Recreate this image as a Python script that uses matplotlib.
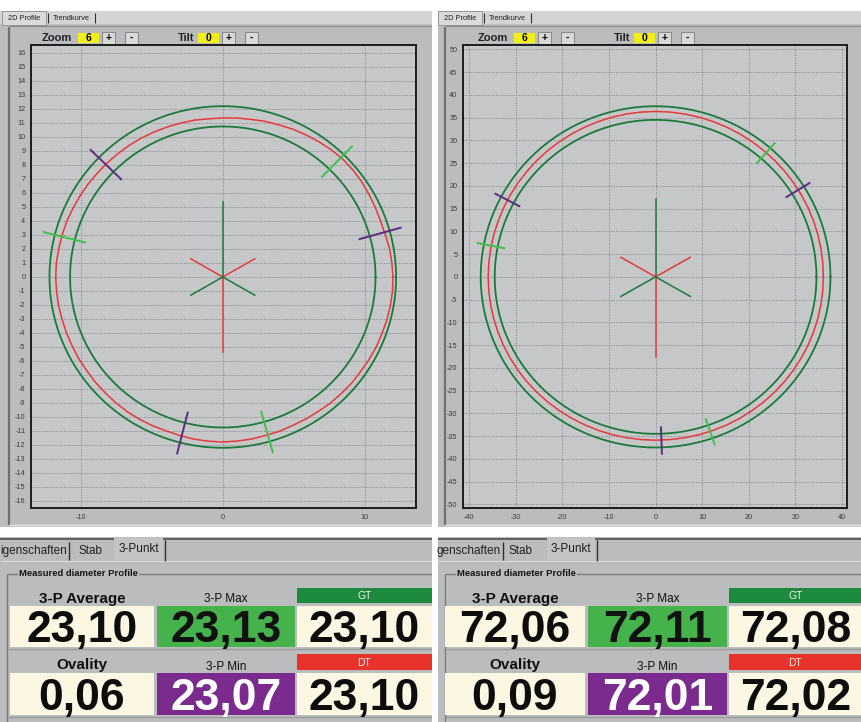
import numpy as np
import matplotlib.pyplot as plt
from matplotlib.patches import Rectangle

plt.rcParams['font.family'] = ['Liberation Sans', 'DejaVu Sans']
plt.rcParams['axes.unicode_minus'] = False

W, H = 862, 722

# ---- small pipe (left window) ----
small_xticks = [-10, 0, 10]
small_yticks = list(range(-16, 17))
small_outer_r = 12.2
small_inner_r = 10.75
profile_deg = list(range(0, 360, 5))
small_profile_r = [11.98, 11.94, 11.91, 11.83, 11.80, 11.83, 11.86, 11.91, 11.93, 11.92,
                   11.87, 11.79, 11.72, 11.65, 11.56, 11.51, 11.43, 11.40, 11.36, 11.34,
                   11.38, 11.38, 11.41, 11.43, 11.46, 11.48, 11.49, 11.52, 11.53, 11.57,
                   11.60, 11.63, 11.68, 11.70, 11.72, 11.76, 11.76, 11.75, 11.74, 11.71,
                   11.71, 11.69, 11.70, 11.68, 11.70, 11.70, 11.72, 11.74, 11.73, 11.72,
                   11.69, 11.72, 11.76, 11.77, 11.79, 11.76, 11.75, 11.71, 11.72, 11.69,
                   11.71, 11.72, 11.77, 11.78, 11.82, 11.82, 11.86, 11.90, 11.91, 11.95,
                   11.97, 11.99]
small_purple_deg = [15.7, 135.7, 255.7]
small_green_deg = [45.7, 165.7, 285.7]
small_mark_r = [10.0, 13.0]
small_arm = [5.35, 5.36, 2.6]   # up, down, diagonal

# ---- large pipe (right window) ----
large_xticks = list(range(-40, 41, 10))
large_yticks = list(range(-50, 51, 5))
large_outer_r = 37.5
large_inner_r = 34.5
large_profile_r = [35.98, 35.99, 36.00, 36.02, 36.04, 36.06, 36.08, 36.10, 36.12, 36.15,
                   36.18, 36.21, 36.24, 36.27, 36.30, 36.32, 36.34, 36.35, 36.36, 36.35,
                   36.34, 36.31, 36.28, 36.24, 36.20, 36.16, 36.12, 36.08, 36.05, 36.01,
                   35.98, 35.95, 35.93, 35.91, 35.90, 35.90, 35.90, 35.90, 35.90, 35.91,
                   35.92, 35.93, 35.94, 35.95, 35.95, 35.94, 35.93, 35.92, 35.91, 35.90,
                   35.90, 35.90, 35.90, 35.90, 35.90, 35.90, 35.91, 35.92, 35.93, 35.94,
                   35.95, 35.95, 35.96, 35.96, 35.97, 35.97, 35.97, 35.98, 35.98, 35.98,
                   35.98, 35.98]
large_purple_deg = [32.0, 152.0, 272.0]
large_green_deg = [49.0, 169.0, 289.0]
large_mark_r = [33.1, 38.9]
large_arm = [17.2, 17.6, 8.6]

# ---- 3-point panel ----
top_titles = ['3-P Average', '3-P Max', 'GT']
bottom_titles = ['Ovality', '3-P Min', 'DT']
small_top_values = ['23,10', '23,13', '23,10']
small_bottom_values = ['0,06', '23,07', '23,10']
large_top_values = ['72,06', '72,11', '72,08']
large_bottom_values = ['0,09', '72,01', '72,02']
zoom_value = 6
tilt_value = 0

WIN = '#bbbcbd'
PLOT_BG = '#c5c7c9'
CREAM = '#fcf7e3'
DARK_GREEN = '#1b7a3a'
RED = '#e6393a'
PURPLE = '#5c2c80'
LIGHT_GREEN = '#3fc04c'

fig = plt.figure(figsize=(W / 100, H / 100), dpi=100)
fig.patch.set_facecolor(WIN)

bg = fig.add_axes([0, 0, 1, 1])
bg.set_xlim(0, W)
bg.set_ylim(H, 0)
bg.axis('off')


def px_rect(x0, y0, x1, y1):
    return [x0 / W, 1 - y1 / H, (x1 - x0) / W, (y1 - y0) / H]


def box(x0, y0, x1, y1, fc, ec='none', lw=0, z=1):
    bg.add_patch(Rectangle((x0, y0), x1 - x0, y1 - y0, facecolor=fc,
                           edgecolor=ec, linewidth=lw, zorder=z))


def hline(y, x0, x1, color, lw=1, z=2):
    bg.plot([x0, x1], [y, y], color=color, lw=lw, zorder=z, solid_capstyle='butt')


def vline(x, y0, y1, color, lw=1, z=2):
    bg.plot([x, x], [y0, y1], color=color, lw=lw, zorder=z, solid_capstyle='butt')


# white strips between windows
box(0, 0, W, 11, 'white')
box(432, 0, 438, H, 'white', z=3)
box(0, 527, W, 537, 'white', z=3)


def window(x0, x1):
    # tab strip + tab page border
    box(x0, 11, x1, 24, '#d4d4d4')
    box(x0 + 2, 11, x0 + 46, 25, '#dadada', ec='#8a8a8a', lw=0.6)
    bg.text(x0 + 24, 18, '2D Profile', fontsize=5.3, ha='center', va='center', color='#202020')
    vline(x0 + 48, 13, 23, '#303030', 0.8)
    bg.text(x0 + 71, 18, 'Trendkurve', fontsize=5.3, ha='center', va='center', color='#202020')
    vline(x0 + 95, 13, 23, '#303030', 0.8)
    vline(x0 + 9, 27, 525, '#6f6f6f', 1.6)
    hline(26, x0 + 9, x1, '#8a8a8a', 0.8)
    hline(525, x0 + 9, x1, '#e6e6e6', 1.0)

    # zoom / tilt controls
    def control(xl, label, value):
        bg.text(xl, 38, label, fontsize=8, fontweight='bold', ha='left', va='center', color='#202020')
        bx = xl + (36 if label == 'Zoom' else 20)
        box(bx, 33, bx + 21, 43, '#f2ee1a')
        bg.text(bx + 10.5, 38, str(value), fontsize=7.5, fontweight='bold', ha='center', va='center')
        for k, sym in enumerate(['+', '-']):
            bx2 = bx + 24 + 23 * k
            box(bx2, 32, bx2 + 13, 44, '#d8d8d8', ec='#7d7d7d', lw=0.6)
            bg.text(bx2 + 6.5, 38, sym, fontsize=7.5, fontweight='bold', ha='center', va='center')

    control(x0 + 42, 'Zoom', zoom_value)
    control(x0 + 178, 'Tilt', tilt_value)


window(0, 432)
window(436, W)


def profile_axes(frame, xlim, ylim, xticks, yticks, outer_r, inner_r, prof_r,
                 purple_deg, green_deg, mark_r, arm):
    ax = fig.add_axes(px_rect(*frame))
    ax.set_facecolor(PLOT_BG)
    th = np.linspace(0, 2 * np.pi, 721)
    for r in (outer_r, inner_r):
        ax.plot(r * np.cos(th), r * np.sin(th), color=DARK_GREEN, lw=1.3, zorder=3)

    a = np.deg2rad(profile_deg + [profile_deg[0]])
    r = np.array(prof_r + [prof_r[0]])
    ax.plot(r * np.cos(a), r * np.sin(a), color=RED, lw=1.1, zorder=4)

    for degs, col in ((purple_deg, PURPLE), (green_deg, LIGHT_GREEN)):
        for d in degs:
            c, s = np.cos(np.deg2rad(d)), np.sin(np.deg2rad(d))
            ax.plot([mark_r[0] * c, mark_r[1] * c], [mark_r[0] * s, mark_r[1] * s],
                    color=col, lw=1.4, zorder=5)

    up, down, diag = arm
    ax.plot([0, 0], [0, up], color=DARK_GREEN, lw=1.1, zorder=5)
    ax.plot([0, 0], [0, -down], color=RED, lw=1.1, zorder=5)
    for d, col in ((30, RED), (150, RED), (210, DARK_GREEN), (330, DARK_GREEN)):
        ax.plot([0, diag * np.cos(np.deg2rad(d))], [0, diag * np.sin(np.deg2rad(d))],
                color=col, lw=1.1, zorder=5)

    ax.set_xlim(*xlim)
    ax.set_ylim(*ylim)
    ax.set_xticks(xticks)
    ax.set_yticks(yticks)
    ax.grid(True, color='#86898c', ls=(0, (1.5, 1.5)), lw=0.6, zorder=1)
    ax.set_axisbelow(True)
    ax.tick_params(length=0, labelsize=5.2, colors='#3c3c3c', pad=4)
    for sp in ax.spines.values():
        sp.set_color('#1c1c1c')
        sp.set_linewidth(1.4)
    return ax


profile_axes((31, 45, 416, 508), (-13.5, 13.6), (-16.5, 16.57), small_xticks, small_yticks,
             small_outer_r, small_inner_r, small_profile_r, small_purple_deg, small_green_deg,
             small_mark_r, small_arm)
profile_axes((463, 45, 847, 508), (-41.3, 41.05), (-50.8, 50.96), large_xticks, large_yticks,
             large_outer_r, large_inner_r, large_profile_r, large_purple_deg, large_green_deg,
             large_mark_r, large_arm)


def value_panel(x0, x1, cols, tabs, top_vals, bottom_vals):
    # tabs: visible part of the first tab label, its right end, separator,
    # Stab centre, 3-Punkt tab span
    eig_label, eig_end, sep_x, stab_x, tab0, tab1 = tabs
    hline(539, x0, x1, '#505050', 1.2, z=4)
    bg.text(eig_end, 551, eig_label, fontsize=8.5, ha='right', va='center',
            color='#202020', zorder=5)
    vline(sep_x, 542, 560, '#303030', 1.0)
    bg.text(stab_x, 551, 'Stab', fontsize=8.5, ha='center', va='center', color='#202020', zorder=5)
    box(tab0, 538, tab1, 560, '#c4c4c4', z=4)
    vline(tab1 + 2, 540, 561, '#303030', 1.0, z=5)
    bg.text((tab0 + tab1) / 2, 549, '3-Punkt', fontsize=8.5, ha='center', va='center',
            color='#202020', zorder=5)
    hline(561, x0, x1, '#dcdcdc', 0.8)

    # group box
    vline(x0 + 7, 574, H, '#7a7a7a', 1.0)
    hline(574, x0 + 7, x1, '#7a7a7a', 1.0)
    bg.text(x0 + 19, 574, 'Measured diameter Profile', fontsize=6.8, fontweight='bold',
            ha='left', va='center', color='#151515', zorder=5,
            bbox=dict(facecolor=WIN, edgecolor='none', pad=0.6))

    rows = [(587, 604, 606, 647, top_titles, top_vals),
            (653, 671, 673, 715, bottom_titles, bottom_vals)]
    for ry0, ry1, vy0, vy1, titles, vals in rows:
        for k, ((cx0, cx1), title, val) in enumerate(zip(cols, titles, vals)):
            cx = (cx0 + cx1) / 2
            if k == 2:
                bar = '#1e8a3e' if title == 'GT' else '#e8332c'
                box(cx0, ry0 + 1, cx1, ry1 - 1, bar, z=2)
                bg.text(cx, (ry0 + ry1) / 2 + 0.5, title, fontsize=7.5, ha='center', va='center',
                        color='#e8f3e8', zorder=5)
            elif k == 0:
                bg.text(cx, ry1 - 1.5, title, fontsize=11, fontweight='bold', ha='center',
                        va='baseline', color='#111111', zorder=5)
            else:
                bg.text(cx, ry1 - 1.5, title, fontsize=8.5, ha='center', va='baseline',
                        color='#111111', zorder=5)
            if k == 1:
                fc = '#46b24c' if title == '3-P Max' else '#7b2a8e'
                tc = '#111111' if title == '3-P Max' else 'white'
            else:
                fc, tc = CREAM, '#0d0d0d'
            box(cx0, vy0, cx1, vy1, fc, z=2)
            bg.text(cx, vy1 - 5, val, fontsize=32, fontweight='bold', ha='center',
                    va='baseline', color=tc, zorder=5)
        hline(vy1 + 2, x0 + 8, x1, '#9a9a9a', 1.0)


value_panel(0, 432, [(10, 154), (157, 295), (297, 432)],
            ('igenschaften', 67, 69, 91, 114, 163),
            small_top_values, small_bottom_values)
value_panel(438, W, [(445, 585), (588, 727), (729, W)],
            ('genschaften', 501, 503, 521, 547, 595),
            large_top_values, large_bottom_values)

fig.savefig('out.png', dpi=100, facecolor=fig.get_facecolor())
